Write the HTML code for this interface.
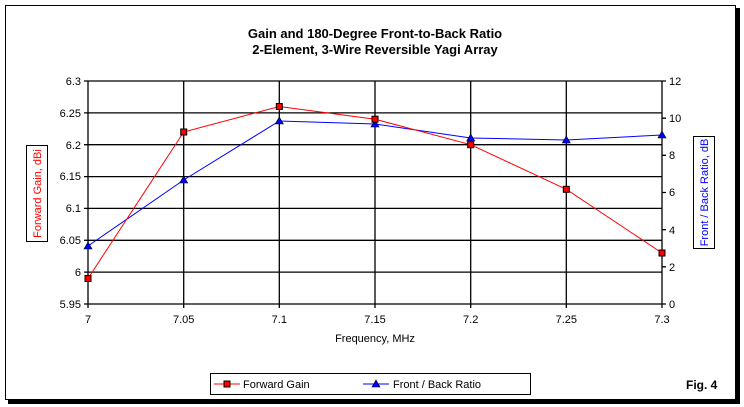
<!DOCTYPE html>
<html><head><style>body{margin:0;background:#fff}svg{display:block}text{font-family:"Liberation Sans",Arial,sans-serif}</style></head>
<body>
<svg width="744" height="407" xmlns="http://www.w3.org/2000/svg">
<rect x="0" y="0" width="744" height="407" fill="#fff"/>
<rect x="5.5" y="5.5" width="730" height="394" fill="#fff" stroke="#000" stroke-width="1"/>
<rect x="736" y="8" width="4" height="396" fill="#000"/>
<rect x="8" y="400" width="732" height="4" fill="#000"/>
<text x="375" y="38" font-size="13" font-weight="bold" text-anchor="middle">Gain and 180-Degree Front-to-Back Ratio</text>
<text x="375" y="54" font-size="13" font-weight="bold" text-anchor="middle">2-Element, 3-Wire Reversible Yagi Array</text>
<g stroke="#000" stroke-width="1.3" fill="none">
<line x1="88" y1="81" x2="662" y2="81"/><line x1="88" y1="112.9" x2="662" y2="112.9"/><line x1="88" y1="144.7" x2="662" y2="144.7"/><line x1="88" y1="176.6" x2="662" y2="176.6"/><line x1="88" y1="208.4" x2="662" y2="208.4"/><line x1="88" y1="240.3" x2="662" y2="240.3"/><line x1="88" y1="272.1" x2="662" y2="272.1"/><line x1="88" y1="304" x2="662" y2="304"/>
<line x1="88" y1="81" x2="88" y2="308"/><line x1="183.7" y1="81" x2="183.7" y2="308"/><line x1="279.3" y1="81" x2="279.3" y2="308"/><line x1="375" y1="81" x2="375" y2="308"/><line x1="470.7" y1="81" x2="470.7" y2="308"/><line x1="566.3" y1="81" x2="566.3" y2="308"/><line x1="662" y1="81" x2="662" y2="308"/>
<path d="M84 81h4M84 112.9h4M84 144.7h4M84 176.6h4M84 208.4h4M84 240.3h4M84 272.1h4M84 304h4"/>
<path d="M662 81h4M662 118.2h4M662 155.3h4M662 192.5h4M662 229.7h4M662 266.8h4M662 304h4"/>
</g>
<g font-size="11" text-anchor="end">
<text x="81" y="85">6.3</text><text x="81" y="117">6.25</text><text x="81" y="149">6.2</text><text x="81" y="180">6.15</text><text x="81" y="212">6.1</text><text x="81" y="244">6.05</text><text x="81" y="276">6</text><text x="81" y="308">5.95</text>
</g>
<g font-size="11">
<text x="669" y="85">12</text><text x="669" y="122">10</text><text x="669" y="159">8</text><text x="669" y="196">6</text><text x="669" y="234">4</text><text x="669" y="271">2</text><text x="669" y="308">0</text>
</g>
<g font-size="11" text-anchor="middle">
<text x="88" y="323">7</text><text x="183.7" y="323">7.05</text><text x="279.3" y="323">7.1</text><text x="375" y="323">7.15</text><text x="470.7" y="323">7.2</text><text x="566.3" y="323">7.25</text><text x="662" y="323">7.3</text>
<text x="375" y="342">Frequency, MHz</text>
</g>
<rect x="26.5" y="145.5" width="21" height="96" fill="#fff" stroke="#000"/>
<text transform="translate(41,193.5) rotate(-90)" font-size="11" fill="#f00" text-anchor="middle">Forward Gain,  dBi</text>
<rect x="693.5" y="136.5" width="21" height="112" fill="#fff" stroke="#000"/>
<text transform="translate(708,192.5) rotate(-90)" font-size="11" fill="#00f" text-anchor="middle">Front / Back Ratio,  dB</text>
<polyline points="88,246 183.7,180 279.3,121 375,124 470.7,138 566.3,140 662,135" fill="none" stroke="#00f" stroke-width="1"/>
<g fill="#00f" stroke="#000" stroke-width="0.6">
<path d="M88 242l4 7h-8z"/><path d="M183.7 176l4 7h-8z"/><path d="M279.3 117l4 7h-8z"/><path d="M375 120l4 7h-8z"/><path d="M470.7 134l4 7h-8z"/><path d="M566.3 136l4 7h-8z"/><path d="M662 131l4 7h-8z"/>
</g>
<polyline points="88,278.5 183.7,132 279.3,106.5 375,119.2 470.7,144.7 566.3,189.3 662,253" fill="none" stroke="#f00" stroke-width="1"/>
<g fill="#f00" stroke="#000" stroke-width="1">
<rect x="85" y="275.5" width="6" height="6"/><rect x="180.7" y="129" width="6" height="6"/><rect x="276.3" y="103.5" width="6" height="6"/><rect x="372" y="116.2" width="6" height="6"/><rect x="467.7" y="141.7" width="6" height="6"/><rect x="563.3" y="186.3" width="6" height="6"/><rect x="659" y="250" width="6" height="6"/>
</g>
<rect x="210.5" y="373.5" width="320" height="21" fill="#fff" stroke="#000"/>
<line x1="214" y1="384" x2="240" y2="384" stroke="#f00"/>
<rect x="224" y="381" width="6" height="6" fill="#f00" stroke="#000"/>
<text x="243" y="388" font-size="11">Forward Gain</text>
<line x1="363" y1="384" x2="389" y2="384" stroke="#00f"/>
<path d="M376 380l4 7h-8z" fill="#00f" stroke="#000" stroke-width="0.6"/>
<text x="393" y="388" font-size="11">Front / Back Ratio</text>
<text x="686" y="389" font-size="12" font-weight="bold">Fig. 4</text>
</svg>
</body></html>
